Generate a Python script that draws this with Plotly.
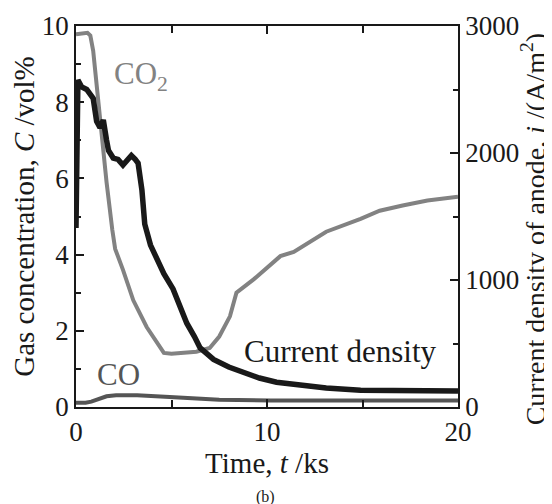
import plotly.graph_objects as go

# ---- data ----
# CO2 concentration, vol%
co2_t = [0, 0.3, 0.6, 0.75, 0.9, 1.0, 1.17, 1.36, 1.6, 1.9, 2.05, 2.46, 3.0, 3.7, 4.2, 4.6, 5.0,
         6.3, 7.0, 7.5, 8.06, 8.4, 9.3, 10.7, 11.4, 13.1, 14.9, 15.9, 17.1, 18.4, 20.0]
co2_c = [9.78, 9.8, 9.82, 9.75, 9.35, 8.85, 7.98, 7.27, 5.9, 4.65, 4.15, 3.6, 2.8, 2.1, 1.7, 1.42, 1.4,
         1.45, 1.55, 1.85, 2.38, 3.0, 3.35, 3.96, 4.07, 4.6, 4.94, 5.15, 5.29, 5.42, 5.52]

# CO concentration, vol%
co_t = [0, 0.5, 0.8, 1.2, 1.6, 2.1, 3.2, 4.9, 7.5, 10.2, 14.0, 17.0, 20.0]
co_c = [0.11, 0.11, 0.14, 0.22, 0.28, 0.31, 0.31, 0.26, 0.19, 0.17, 0.17, 0.17, 0.17]

# Current density of anode, A/m2
cd_t = [0, 0.04, 0.1, 0.3, 0.56, 0.9, 1.08, 1.26, 1.43, 1.6, 1.7, 1.95, 2.2, 2.46, 2.7, 2.9, 3.1,
        3.25, 3.45, 3.6, 3.9, 4.3, 4.6, 5.08, 5.5, 5.8, 6.2, 6.5, 6.85, 7.2, 8.0, 8.9, 9.6,
        10.5, 11.4, 12.3, 13.1, 14.9, 16.5, 18.4, 20.0]
cd_i = [1410, 2550, 2575, 2520, 2500, 2430, 2250, 2200, 2260, 2100, 2020, 1960, 1950, 1905, 1950,
        1980, 1950, 1920, 1710, 1440, 1275, 1140, 1050, 930, 780, 660, 555, 465, 420, 375, 315,
        270, 228, 195, 180, 165, 150, 132, 129, 126, 126]

x_ticks = [0, 10, 20]
y_ticks = [0, 2, 4, 6, 8, 10]
y2_ticks = [0, 1000, 2000, 3000]

FONT = "Liberation Serif"
GRAY = "rgb(130,130,130)"
DARK = "rgb(85,85,85)"
INK = "rgb(25,25,25)"

fig = go.Figure()
fig.add_trace(go.Scatter(x=cd_t, y=cd_i, mode="lines", yaxis="y2",
                         line=dict(color=INK, width=5.5), showlegend=False))
fig.add_trace(go.Scatter(x=co2_t, y=co2_c, mode="lines",
                         line=dict(color=GRAY, width=4), showlegend=False))
fig.add_trace(go.Scatter(x=co_t, y=co_c, mode="lines",
                         line=dict(color=DARK, width=4), showlegend=False))

axis_common = dict(showline=True, linecolor=INK, linewidth=1.5, showgrid=False, zeroline=False,
                   ticks="inside", tickcolor=INK, ticklen=8, tickwidth=1.5, automargin=False,
                   tickfont=dict(family=FONT, size=27, color=INK))

# the page body adds an 8 px offset, so the figure is 8 px smaller on each side
fig.update_layout(
    width=544, height=496,
    margin=dict(l=68, r=94, t=18, b=97),
    paper_bgcolor="white", plot_bgcolor="white",
    font=dict(family=FONT, color=INK),
    xaxis=dict(range=[0, 20], tickvals=x_ticks, mirror="ticks",
               minor=dict(dtick=5, ticks="inside", ticklen=7, tickcolor=INK, tickwidth=1.5),
               title=dict(text="Time, <i>t</i> /ks", font=dict(family=FONT, size=29, color=INK), standoff=5),
               **axis_common),
    yaxis=dict(range=[0, 10], tickvals=y_ticks,
               minor=dict(dtick=1, ticks="inside", ticklen=5, tickcolor=INK, tickwidth=1.5),
               title=dict(text="Gas concentration, <i>C</i> /vol%", font=dict(family=FONT, size=29, color=INK), standoff=5),
               **axis_common),
    yaxis2=dict(range=[0, 3000], tickvals=y2_ticks, overlaying="y", side="right", anchor="x",
                minor=dict(dtick=500, ticks="inside", ticklen=5, tickcolor=INK, tickwidth=1.5),
                **axis_common),
    annotations=[
        dict(x=1.197, y=0.467, xref="paper", yref="paper", textangle=-90,
             text="Current density of anode, <i>i</i> /(A/m<sup>2</sup>)", showarrow=False,
             xanchor="center", yanchor="middle", font=dict(family=FONT, size=28, color=INK)),
        dict(x=3.4, y=8.7, xref="x", yref="y", text="CO<sub>2</sub>", showarrow=False,
             font=dict(family=FONT, size=31, color=GRAY)),
        dict(x=2.2, y=0.85, xref="x", yref="y", text="CO", showarrow=False,
             font=dict(family=FONT, size=31, color=DARK)),
        dict(x=13.8, y=1.45, xref="x", yref="y", text="Current density", showarrow=False,
             font=dict(family=FONT, size=31, color=INK)),
        dict(x=0.495, y=-0.235, xref="paper", yref="paper", text="(b)", showarrow=False,
             yanchor="middle", font=dict(family=FONT, size=16, color=INK)),
    ],
)

fig.write_html("out.html")
